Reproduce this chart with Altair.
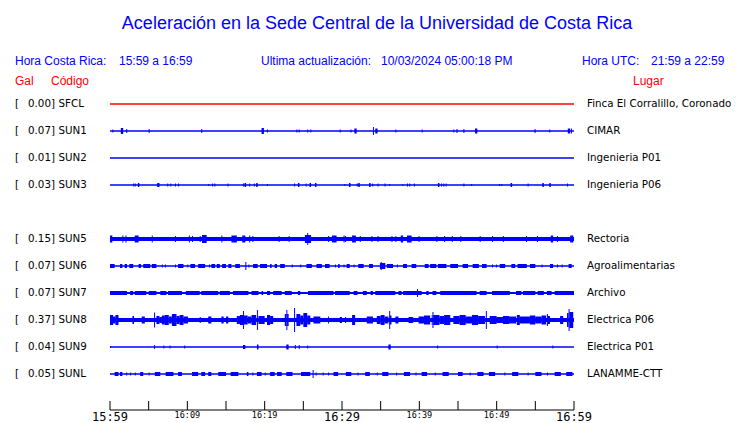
import altair as alt
import pandas as pd

# ---------------- data ----------------
TITLE = "Aceleración en la Sede Central de la Universidad de Costa Rica"
HORA_CR = ["Hora Costa Rica:", "15:59 a 16:59"]
ACTUALIZACION = ["Ultima actualización:", "10/03/2024 05:00:18 PM"]
HORA_UTC = ["Hora UTC:", "21:59 a 22:59"]
COL_HEADERS = ["Gal", "Código", "Lugar"]

codes = ["SFCL", "SUN1", "SUN2", "SUN3", "SUN5", "SUN6", "SUN7", "SUN8", "SUN9", "SUNL"]
rows = [0, 1, 2, 3, 5, 6, 7, 8, 9, 10]
peaks = ["0.00", "0.07", "0.01", "0.03", "0.15", "0.07", "0.07", "0.37", "0.04", "0.05"]
places = ["Finca El Corralillo, Coronado", "CIMAR", "Ingenieria P01", "Ingenieria P06",
          "Rectoria", "Agroalimentarias", "Archivo", "Electrica P06", "Electrica P01",
          "LANAMME-CTT"]
# background noise half-amplitude of each trace (trace units)
noise = [0.75, 0.7, 0.75, 0.7, 2.0, 0.75, 1.0, 2.0, 0.75, 0.75]

# minutes after 15:59 ; events are (minute, amp) spikes or (start, end, amp) bursts
ev_SFCL = []
ev_SUN1 = [(0.3, 1.5), (1.4, 1.7, 3), (2.1, 2), (5.0, 2), (11.8, 2), (19.6, 19.9, 3), (20.3, 1.5),
           (24.1, 1.5), (24.4, 1.5), (25.5, 1.5), (25.9, 1.5), (29.7, 1.5), (31.1, 1.5),
           (31.6, 31.9, 2.5), (34.0, 4), (34.3, 34.6, 2.5), (36.9, 1.5), (40.3, 1.5), (44.4, 1.5),
           (44.8, 2), (45.7, 2), (47.2, 47.5, 2.5), (54.9, 2), (56.8, 1.5), (59.2, 59.5, 2.5),
           (59.6, 2.5)]
ev_SUN2 = []
ev_SUN3 = [(3.0, 1.5), (3.2, 1.5), (3.6, 3.8, 2), (6.1, 6.4, 2), (7.4, 1.5), (7.8, 1.5), (8.4, 1.5),
           (8.8, 1.5), (12.7, 1), (13.2, 1.5), (13.5, 1.5), (15.2, 1.5), (17.2, 1.5), (17.4, 17.6, 2),
           (18.0, 1.5), (18.6, 1.5), (18.9, 19.1, 2), (20.3, 1), (23.8, 1.5), (24.3, 24.5, 2),
           (25.3, 1.5), (25.8, 26.0, 2), (26.5, 26.7, 2), (30.3, 1), (30.9, 31.1, 2), (31.9, 1.5),
           (32.1, 32.3, 2), (33.5, 33.7, 2), (33.9, 1.5), (34.6, 1.5), (35.5, 1.5), (36.1, 1),
           (37.8, 1), (38.4, 1.5), (38.7, 1.5), (39.3, 1.5), (42.4, 42.6, 2), (42.8, 1.5), (43.1, 1.5),
           (43.4, 1.5), (45.7, 1.5), (46.7, 1), (50.3, 1), (50.6, 1), (51.8, 52.0, 2), (54.0, 1.5),
           (55.9, 56.1, 2), (56.8, 57.0, 2), (59.1, 1.5)]
ev_SUN5 = [(0.0, 0.3, 3.5), (1.6, 3.5), (2.0, 3.5), (3.2, 3.7, 3.5), (5.4, 3.5), (8.4, 3), (10.2, 3.5),
           (10.6, 3), (11.6, 3), (11.9, 12.5, 4), (14.4, 3.5), (15.7, 16.4, 3.5), (17.1, 17.5, 3.5),
           (18.0, 3.5), (18.4, 3), (21.8, 3), (23.1, 3), (25.2, 26.0, 4), (25.5, 6), (28.2, 3),
           (28.7, 29.3, 3.5), (30.2, 3.5), (30.4, 3), (31.3, 31.8, 3.5), (32.3, 3), (33.8, 3),
           (34.6, 3), (36.4, 3), (36.9, 3), (37.6, 37.9, 3.5), (38.4, 39.0, 3.5), (39.9, 3), (42.2, 3),
           (43.2, 3), (44.2, 3), (45.3, 3), (47.8, 3), (49.4, 3), (50.8, 3), (53.8, 3), (55.2, 3),
           (57.0, 57.3, 3.5), (57.8, 3), (59.5, 59.9, 3.5)]
ev_SUN6 = [(0.0, 0.6, 2), (1.3, 1.6, 2), (1.9, 2.2, 2), (2.5, 3.0, 2), (3.7, 4.0, 2), (4.3, 5.2, 2),
           (5.4, 6.0, 2), (6.7, 1.5), (7.1, 1.5), (8.4, 1.5), (8.8, 9.5, 2), (10.0, 1.5),
           (10.4, 11.0, 2), (11.4, 12.3, 2), (12.8, 1.5), (13.1, 13.6, 2), (13.8, 14.2, 2),
           (14.5, 15.0, 2), (15.3, 15.7, 2), (16.2, 16.8, 2), (17.5, 4), (17.9, 1.5), (18.5, 19.1, 2),
           (19.4, 20.3, 2), (20.7, 20.9, 2), (21.3, 21.6, 2), (22.0, 22.6, 2), (23.5, 1.5), (24.6, 1.5),
           (25.4, 26.1, 2), (26.7, 27.4, 2), (27.8, 28.4, 2), (29.1, 1.5), (29.5, 29.7, 2), (30.2, 1.5),
           (30.6, 31.0, 2), (31.5, 1.5), (32.1, 32.8, 2), (33.5, 34.0, 2), (34.9, 35.6, 3), (35.0, 4),
           (35.8, 36.6, 2), (37.1, 1.5), (37.9, 38.4, 2), (39.0, 39.6, 2), (40.7, 41.2, 2),
           (41.4, 42.2, 2), (42.4, 43.5, 2), (44.0, 45.0, 2), (45.6, 46.3, 2), (46.9, 47.7, 2),
           (48.1, 48.7, 2), (49.4, 1.5), (49.9, 1.5), (50.4, 51.1, 2), (51.9, 52.4, 2), (52.7, 53.9, 2),
           (54.3, 55.0, 2), (55.8, 1.5), (56.9, 57.3, 2), (57.8, 1.5), (58.4, 1.5), (59.3, 59.7, 2)]
ev_SUN7 = [(0.0, 2.2, 2), (2.6, 3.0, 2), (3.2, 4.7, 2), (5.0, 6.0, 2), (6.5, 7.3, 2), (7.5, 9.3, 2),
           (9.8, 11.6, 2), (11.8, 14.0, 2), (14.2, 15.5, 2), (15.9, 17.9, 2), (18.3, 19.2, 2),
           (19.6, 19.8, 2), (20.3, 20.7, 2), (21.1, 22.2, 2), (22.6, 23.5, 2), (24.3, 24.6, 2),
           (25.6, 28.9, 2), (29.1, 31.0, 2), (31.5, 32.0, 2), (32.7, 33.2, 2), (33.7, 34.0, 2),
           (34.3, 36.9, 2), (37.3, 37.7, 2), (37.9, 40.3, 2), (39.7, 4), (40.9, 41.2, 2),
           (41.7, 42.2, 2), (42.7, 47.4, 2), (47.8, 48.7, 2), (49.4, 51.7, 2), (52.5, 53.2, 2),
           (53.4, 55.0, 2), (55.3, 56.1, 2), (56.5, 57.1, 2), (57.5, 60.0, 2)]
ev_SUN8 = [(0.0, 0.4, 5), (0.4, 0.7, 3.5), (0.7, 1.1, 5), (2.9, 3.1, 4), (4.1, 4.5, 3.5), (5.7, 7.5),
           (6.0, 6.4, 4), (6.4, 6.7, 3), (6.7, 7.1, 4.5), (7.1, 7.6, 5), (7.6, 8.0, 3.5), (8.0, 8.6, 6),
           (8.6, 9.0, 4), (9.0, 9.5, 5), (9.5, 10.1, 3.5), (11.6, 3), (12.7, 13.1, 3.5),
           (14.4, 14.7, 3.5), (15.0, 15.3, 3.5), (16.4, 16.8, 4), (16.8, 17.2, 5), (17.2, 9),
           (17.3, 17.8, 4.5), (17.8, 18.3, 3.5), (18.3, 18.9, 5), (19.0, 10), (19.2, 20.0, 4),
           (20.3, 20.7, 5), (20.7, 21.1, 4), (22.6, 22.8, 6), (22.8, 10), (22.9, 23.1, 6), (23.8, 12),
           (24.1, 24.6, 6), (24.6, 25.0, 4.5), (25.0, 25.5, 7), (25.5, 25.9, 4.5), (26.3, 27.2, 3.5),
           (28.2, 3.5), (29.7, 30.0, 3), (30.4, 3), (31.3, 31.7, 5), (33.2, 34.0, 3.5),
           (34.5, 35.0, 4), (35.0, 35.5, 5), (35.5, 36.0, 3.5), (36.1, 9), (36.2, 36.4, 4.5),
           (36.9, 37.3, 3.5), (38.6, 39.2, 3), (39.9, 40.6, 3.5), (40.6, 41.4, 4.5), (41.6, 41.7, 5),
           (41.7, 8), (41.8, 42.6, 5), (42.6, 43.2, 4), (43.2, 44.0, 5), (44.4, 45.2, 4),
           (45.2, 46.0, 5), (46.0, 46.8, 3.5), (46.8, 47.6, 5), (47.6, 48.5, 4), (48.6, 9),
           (49.1, 50.0, 4), (50.0, 50.8, 3), (50.8, 51.6, 4), (51.6, 52.5, 3.5), (52.6, 53.0, 5),
           (53.0, 54.3, 3.5), (54.3, 55.0, 4.5), (55.0, 55.8, 3.5), (55.8, 56.4, 4.5), (56.5, 6),
           (56.6, 56.9, 4), (58.2, 58.6, 4), (59.1, 59.3, 7), (59.3, 11), (59.4, 59.9, 8)]
ev_SUN9 = [(0.0, 1), (5.7, 2), (6.9, 1.5), (7.7, 1.5), (9.6, 1.5), (17.2, 17.5, 2), (19.0, 19.2, 2.5),
           (22.8, 23.1, 2.5), (23.9, 2), (24.4, 2), (25.5, 1.5), (36.0, 36.3, 2.5), (42.3, 1.5),
           (50.0, 1.5), (57.2, 1.5)]
ev_SUNL = [(0.6, 1.1, 2), (1.3, 1.6, 2), (2.1, 1.5), (2.6, 1.5), (3.2, 1.5), (3.9, 4.3, 2), (5.0, 1.5),
           (5.8, 6.5, 2), (7.2, 8.2, 2), (8.8, 9.3, 2), (10.6, 11.4, 2), (11.8, 12.3, 2),
           (12.7, 13.1, 2), (14.0, 15.0, 2), (15.6, 16.6, 2), (17.7, 17.9, 2), (18.4, 1.5),
           (19.0, 19.6, 2), (20.0, 1.5), (20.7, 21.3, 2), (21.6, 22.2, 2), (22.8, 23.6, 2),
           (24.7, 25.9, 2), (26.2, 4), (26.6, 1.5), (27.5, 1.5), (28.2, 1.5), (28.9, 29.5, 2),
           (30.5, 31.2, 2), (32.0, 1.5), (33.0, 33.6, 2), (34.5, 1.5), (35.2, 36.0, 2), (37.0, 1.5),
           (38.0, 38.8, 2), (39.5, 1.5), (40.3, 41.0, 2), (42.0, 1.5), (43.0, 43.8, 2), (45.0, 45.6, 2),
           (46.5, 1.5), (47.5, 48.3, 2), (49.0, 49.8, 2), (51.0, 1.5), (52.0, 52.8, 2), (54.0, 1.5),
           (55.0, 55.8, 2), (56.5, 1.5), (57.5, 58.3, 2), (59.0, 59.8, 2)]
events = [ev_SFCL, ev_SUN1, ev_SUN2, ev_SUN3, ev_SUN5, ev_SUN6, ev_SUN7, ev_SUN8, ev_SUN9, ev_SUNL]

tick_minutes = list(range(0, 61, 5))
major_labels = ["15:59", "16:29", "16:59"]
major_minutes = [0, 30, 60]
minor_labels = ["16:09", "16:19", "16:39", "16:49"]
minor_minutes = [10, 20, 40, 50]

ROW_GAP = 27          # trace units between two rows
SPIKE = 0.13          # one-sample spike duration (minutes)

# ---------------- tables ----------------
recs = []
for code, r, b, evs in zip(codes, rows, noise, events):
    yc = r * ROW_GAP
    recs.append(dict(code=code, t0=0, t1=60, y0=yc - b, y1=yc + b))
    for e in evs:
        if len(e) == 2:
            t0, t1, a = e[0], e[0] + SPIKE, e[1]
        else:
            t0, t1, a = e
        recs.append(dict(code=code, t0=t0, t1=t1, y0=yc - a, y1=yc + a))
traces = pd.DataFrame(recs)

labels = pd.DataFrame(dict(code=codes, yc=[r * ROW_GAP for r in rows],
                           peak=[p + "]" for p in peaks], place=places))
ticks = pd.DataFrame(dict(m=tick_minutes))
axis_line = pd.DataFrame(dict(m0=[min(tick_minutes)], m1=[max(tick_minutes)]))
majors = pd.DataFrame(dict(m=major_minutes, lab=major_labels))
minors = pd.DataFrame(dict(m=minor_minutes, lab=minor_labels))

# ---------------- chart ----------------
W, H = 724, 415
xs = alt.Scale(domain=[0, 60], range=[102, 566])
ys = alt.Scale(domain=[0, 10 * ROW_GAP], range=[96, 366])
colors = ["#ff0000"] + ["#0000ff"] * (len(codes) - 1)

trace_layer = alt.Chart(traces).mark_rect().encode(
    x=alt.X("t0:Q", scale=xs, axis=None),
    x2="t1:Q",
    y=alt.Y("y0:Q", scale=ys, axis=None),
    y2="y1:Q",
    color=alt.Color("code:N", scale=alt.Scale(domain=codes, range=colors), legend=None),
)

LAB_FONT = "DejaVu Sans"
LAB_SIZE = 10.3
base_lab = alt.Chart(labels)
bracket = base_lab.mark_text(align="left", baseline="middle", font=LAB_FONT, fontSize=LAB_SIZE,
                             color="black").encode(
    x=alt.value(7), y=alt.Y("yc:Q", scale=ys), text=alt.value("["))
peak_t = base_lab.mark_text(align="right", baseline="middle", font=LAB_FONT, fontSize=LAB_SIZE,
                            color="black").encode(
    x=alt.value(47), y=alt.Y("yc:Q", scale=ys), text="peak:N")
code_t = base_lab.mark_text(align="left", baseline="middle", font=LAB_FONT, fontSize=LAB_SIZE,
                            color="black").encode(
    x=alt.value(50.5), y=alt.Y("yc:Q", scale=ys), text="code:N")
place_t = base_lab.mark_text(align="left", baseline="middle", font=LAB_FONT, fontSize=LAB_SIZE,
                             color="black").encode(
    x=alt.value(579), y=alt.Y("yc:Q", scale=ys), text="place:N")

tick_marks = alt.Chart(ticks).mark_rule(color="black", strokeWidth=1).encode(
    x=alt.X("m:Q", scale=xs), y=alt.value(393), y2=alt.value(402))
axis_rule = alt.Chart(axis_line).mark_rule(color="black", strokeWidth=1).encode(
    x=alt.X("m0:Q", scale=xs), x2="m1:Q", y=alt.value(402))
major_t = alt.Chart(majors).mark_text(font="DejaVu Sans Mono", fontSize=12, baseline="alphabetic",
                                      color="black").encode(
    x=alt.X("m:Q", scale=xs), y=alt.value(412.5), text="lab:N")
minor_t = alt.Chart(minors).mark_text(font="DejaVu Sans Mono", fontSize=8.5, baseline="alphabetic",
                                      color="black").encode(
    x=alt.X("m:Q", scale=xs), y=alt.value(410), text="lab:N")


def head(txt, x, y, color, size, align="left"):
    return alt.Chart(pd.DataFrame(dict(t=[txt]))).mark_text(
        align=align, baseline="middle", font="Liberation Sans", fontSize=size, color=color
    ).encode(x=alt.value(x), y=alt.value(y), text="t:N")


BLUE = "#0000ff"
RED = "#ff0000"
headers = [
    head(TITLE, 369, 15.5, BLUE, 18, "center"),
    head(HORA_CR[0], 7, 53, BLUE, 12),
    head(HORA_CR[1], 111, 53, BLUE, 12),
    head(ACTUALIZACION[0], 253, 53, BLUE, 12),
    head(ACTUALIZACION[1], 373, 53, BLUE, 12),
    head(HORA_UTC[0], 574, 53, BLUE, 12),
    head(HORA_UTC[1], 643, 53, BLUE, 12),
    head(COL_HEADERS[0], 7, 73, RED, 12),
    head(COL_HEADERS[1], 43, 73, RED, 12),
    head(COL_HEADERS[2], 625, 73, RED, 12),
]

chart = alt.layer(
    trace_layer, bracket, peak_t, code_t, place_t, tick_marks, axis_rule, major_t, minor_t, *headers
).properties(
    width=W, height=H, padding=0, autosize=alt.AutoSizeParams(type="none")
).configure_view(stroke=None).resolve_scale(x="shared", y="shared")

chart.save("out.html", embed_options={"renderer": "svg", "actions": False})
